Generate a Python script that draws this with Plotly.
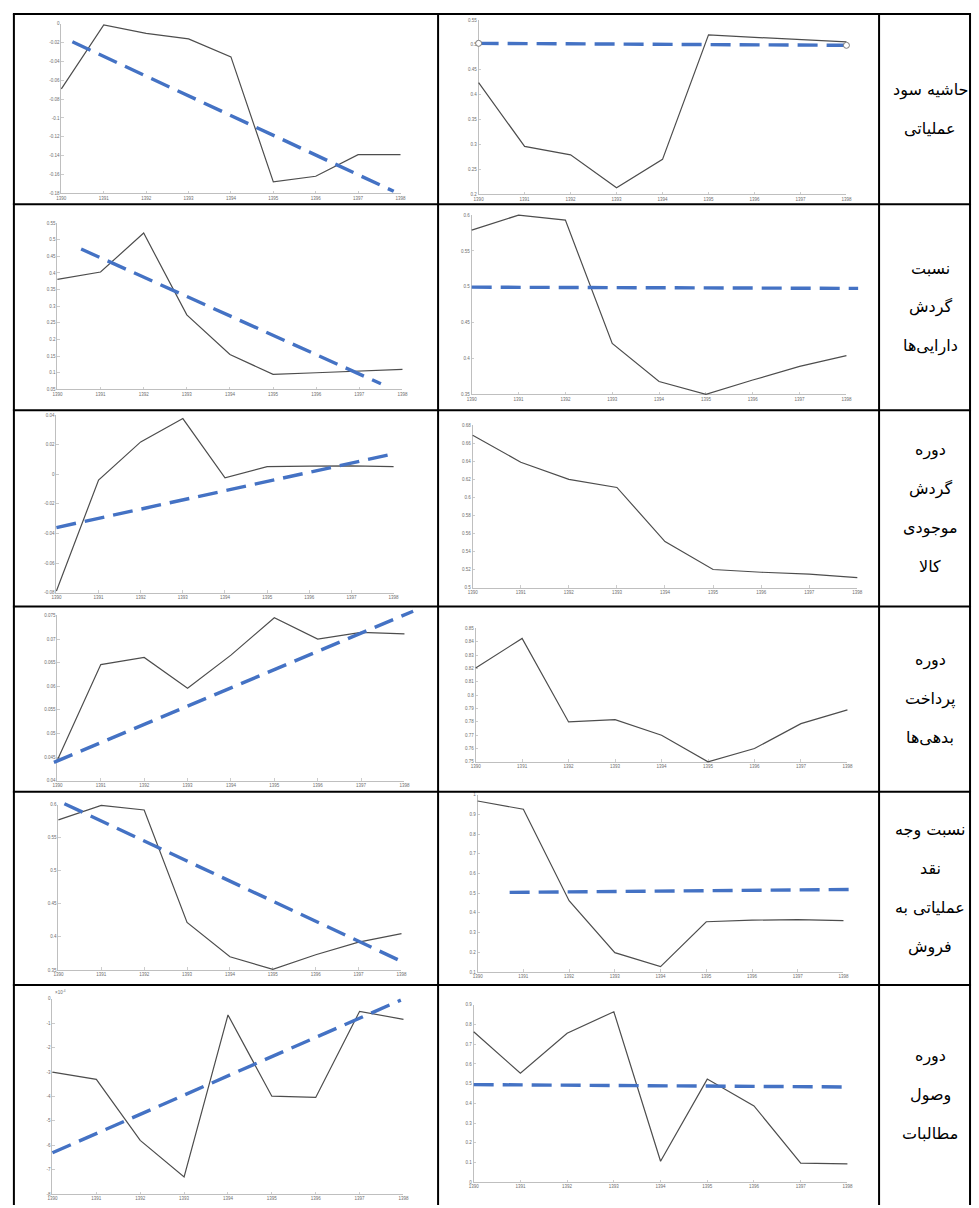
import plotly.graph_objects as go

W, H = 979, 1208

# ---------------- data ----------------
years = [1390, 1391, 1392, 1393, 1394, 1395, 1396, 1397, 1398]
year_labels = [str(y) for y in years]

row_labels = [
    ["حاشیه سود", "عملیاتی"],
    ["نسبت", "گردش", "دارایی\u200cها"],
    ["دوره", "گردش", "موجودی", "کالا"],
    ["دوره", "پرداخت", "بدهی\u200cها"],
    ["نسبت وجه", "نقد", "عملیاتی به", "فروش"],
    ["دوره", "وصول", "مطالبات"],
]

# row 1
r1_left_values = [-0.069, -0.001, -0.010, -0.016, -0.035, -0.168, -0.162, -0.139, -0.139]
r1_left_trend_x = [1390.26, 1397.84]
r1_left_trend_y = [-0.019, -0.178]
r1_left_yticks = [-0.18, -0.16, -0.14, -0.12, -0.1, -0.08, -0.06, -0.04, -0.02, 0]

r1_mid_values = [0.424, 0.296, 0.279, 0.213, 0.270, 0.520, 0.515, 0.510, 0.506]
r1_mid_trend_x = [1390, 1398]
r1_mid_trend_y = [0.503, 0.499]
r1_mid_yticks = [0.2, 0.25, 0.3, 0.35, 0.4, 0.45, 0.5, 0.55]

# row 2
r2_left_values = [0.381, 0.403, 0.520, 0.274, 0.155, 0.095, 0.100, 0.105, 0.110]
r2_left_trend_x = [1390.55, 1397.5]
r2_left_trend_y = [0.472, 0.067]
r2_left_yticks = [0.05, 0.1, 0.15, 0.2, 0.25, 0.3, 0.35, 0.4, 0.45, 0.5, 0.55]

r2_mid_values = [0.579, 0.600, 0.593, 0.421, 0.368, 0.350, 0.370, 0.389, 0.404]
r2_mid_trend_x = [1390, 1398.25]
r2_mid_trend_y = [0.4995, 0.4978]
r2_mid_yticks = [0.35, 0.4, 0.45, 0.5, 0.55, 0.6]

# row 3
r3_left_values = [-0.079, -0.0038, 0.022, 0.0378, -0.0023, 0.0052, 0.0056, 0.0058, 0.0052]
r3_left_trend_x = [1390, 1398.05]
r3_left_trend_y = [-0.036, 0.0142]
r3_left_yticks = [-0.08, -0.06, -0.04, -0.02, 0, 0.02, 0.04]

r3_mid_values = [0.669, 0.639, 0.620, 0.611, 0.551, 0.520, 0.517, 0.515, 0.511]
r3_mid_yticks = [0.5, 0.52, 0.54, 0.56, 0.58, 0.6, 0.62, 0.64, 0.66, 0.68]

# row 4
r4_left_values = [0.0444, 0.0646, 0.0661, 0.0596, 0.0666, 0.0745, 0.0700, 0.0714, 0.0711]
r4_left_trend_x = [1389.92, 1398.2]
r4_left_trend_y = [0.0439, 0.0759]
r4_left_yticks = [0.04, 0.045, 0.05, 0.055, 0.06, 0.065, 0.07, 0.075]

r4_mid_values = [0.8204, 0.8425, 0.7799, 0.7816, 0.7699, 0.7500, 0.7600, 0.7786, 0.7890]
r4_mid_yticks = [0.75, 0.76, 0.77, 0.78, 0.79, 0.8, 0.81, 0.82, 0.83, 0.84, 0.85]

# row 5
r5_left_values = [0.577, 0.599, 0.592, 0.422, 0.370, 0.351, 0.373, 0.392, 0.405]
r5_left_trend_x = [1390.14, 1398.1]
r5_left_trend_y = [0.6015, 0.360]
r5_left_yticks = [0.35, 0.4, 0.45, 0.5, 0.55, 0.6]

r5_mid_values = [0.968, 0.926, 0.462, 0.198, 0.127, 0.355, 0.363, 0.366, 0.361]
r5_mid_trend_x = [1390.7, 1398.15]
r5_mid_trend_y = [0.504, 0.519]
r5_mid_yticks = [0.1, 0.2, 0.3, 0.4, 0.5, 0.6, 0.7, 0.8, 0.9, 1]

# row 6
r6_left_values = [-3.0e-4, -3.3e-4, -5.8e-4, -7.3e-4, -0.66e-4, -3.99e-4, -4.04e-4, -0.51e-4, -0.84e-4]
r6_left_trend_x = [1390, 1397.94]
r6_left_trend_y = [-6.31e-4, -0.05e-4]
r6_left_yticks = [-8e-4, -7e-4, -6e-4, -5e-4, -4e-4, -3e-4, -2e-4, -1e-4, 0]
r6_left_exponent = "×10<sup>-4</sup>"

r6_mid_values = [0.763, 0.553, 0.756, 0.865, 0.106, 0.523, 0.387, 0.096, 0.093]
r6_mid_trend_x = [1390, 1398]
r6_mid_trend_y = [0.495, 0.483]
r6_mid_yticks = [0, 0.1, 0.2, 0.3, 0.4, 0.5, 0.6, 0.7, 0.8, 0.9]

# ---------------- layout (pixel boxes of plot areas) ----------------
charts = [
    dict(box=(57, 400, 22, 192), vals=r1_left_values, tx=r1_left_trend_x, ty=r1_left_trend_y, yt=r1_left_yticks),
    dict(box=(479, 851, 18, 193), vals=r1_mid_values, tx=r1_mid_trend_x, ty=r1_mid_trend_y, yt=r1_mid_yticks, ends=True),
    dict(box=(53, 402, 222, 389), vals=r2_left_values, tx=r2_left_trend_x, ty=r2_left_trend_y, yt=r2_left_yticks),
    dict(box=(472, 851, 214, 394), vals=r2_mid_values, tx=r2_mid_trend_x, ty=r2_mid_trend_y, yt=r2_mid_yticks),
    dict(box=(52, 393, 415, 593), vals=r3_left_values, tx=r3_left_trend_x, ty=r3_left_trend_y, yt=r3_left_yticks),
    dict(box=(473, 862, 425, 588), vals=r3_mid_values, tx=None, ty=None, yt=r3_mid_yticks),
    dict(box=(53, 404, 616, 782), vals=r4_left_values, tx=r4_left_trend_x, ty=r4_left_trend_y, yt=r4_left_yticks),
    dict(box=(476, 852, 629, 763), vals=r4_mid_values, tx=None, ty=None, yt=r4_mid_yticks),
    dict(box=(54, 401, 806, 972), vals=r5_left_values, tx=r5_left_trend_x, ty=r5_left_trend_y, yt=r5_left_yticks),
    dict(box=(478, 848, 796, 974), vals=r5_mid_values, tx=r5_mid_trend_x, ty=r5_mid_trend_y, yt=r5_mid_yticks),
    dict(box=(48, 403, 1001, 1197), vals=r6_left_values, tx=r6_left_trend_x, ty=r6_left_trend_y, yt=r6_left_yticks,
         tickscale=1e4, exponent=r6_left_exponent),
    dict(box=(474, 852, 1007, 1185), vals=r6_mid_values, tx=r6_mid_trend_x, ty=r6_mid_trend_y, yt=r6_mid_yticks),
]

GRAY = "#4d4d4d"
BLUE = "#4472c4"
AXC = "#bfbfbf"
TICKFONT = dict(family="Liberation Sans, Arial", size=4.5, color="#6e6e6e")
PAD = 16


def px(x):
    return x / W


def py(y):
    return 1 - y / H


def fmt(v, scale=1.0):
    s = "%g" % round(v * scale, 6)
    return "0" if s in ("-0", "0") else s


fig = go.Figure()
lay = {}
ai = 0
for c in charts:
    xl, xr, yt_px, yb_px = c["box"]
    ymin, ymax = min(c["yt"]), max(c["yt"])
    x0, x1 = years[0], years[-1]
    scale = c.get("tickscale", 1.0)

    # main (axes only)
    ai += 1
    n = ai
    xa = "xaxis" if n == 1 else f"xaxis{n}"
    ya = "yaxis" if n == 1 else f"yaxis{n}"
    xr_ref = "x" if n == 1 else f"x{n}"
    yr_ref = "y" if n == 1 else f"y{n}"
    lay[xa] = dict(domain=[px(xl), px(xr)], range=[x0, x1], anchor=yr_ref,
                   showline=True, linecolor=AXC, linewidth=1, mirror=False,
                   showgrid=False, zeroline=False, ticks="inside", ticklen=2.5,
                   tickcolor=AXC, tickwidth=0.8, tickvals=years, ticktext=year_labels,
                   tickfont=TICKFONT, fixedrange=True)
    lay[ya] = dict(domain=[py(yb_px), py(yt_px)], range=[ymin, ymax], anchor=xr_ref,
                   showline=True, linecolor=AXC, linewidth=1,
                   showgrid=False, zeroline=False, ticks="inside", ticklen=2.5,
                   tickcolor=AXC, tickwidth=0.8, tickvals=c["yt"],
                   ticktext=[fmt(v, scale) for v in c["yt"]],
                   tickfont=TICKFONT, fixedrange=True)
    fig.add_trace(go.Scatter(x=[x0], y=[ymin], xaxis=xr_ref, yaxis=yr_ref, mode="markers",
                             marker=dict(opacity=0), hoverinfo="skip", showlegend=False))

    # padded overlay for lines (avoid clipping)
    ai += 1
    m = ai
    sx = (x1 - x0) / (xr - xl)
    sy = (ymax - ymin) / (yb_px - yt_px)
    dxl = min(PAD, xl - 1)
    dxr = min(PAD, W - xr - 1)
    dyt = min(PAD, yt_px - 1)
    dyb = min(PAD, H - yb_px - 1)
    lay[f"xaxis{m}"] = dict(domain=[px(xl - dxl), px(xr + dxr)],
                            range=[x0 - dxl * sx, x1 + dxr * sx], anchor=f"y{m}",
                            visible=False, fixedrange=True)
    lay[f"yaxis{m}"] = dict(domain=[py(yb_px + dyb), py(yt_px - dyt)],
                            range=[ymin - dyb * sy, ymax + dyt * sy], anchor=f"x{m}",
                            visible=False, fixedrange=True)
    fig.add_trace(go.Scatter(x=years, y=c["vals"], xaxis=f"x{m}", yaxis=f"y{m}",
                             mode="lines", line=dict(color=GRAY, width=1.2),
                             hoverinfo="skip", showlegend=False))
    if c["tx"] is not None:
        fig.add_trace(go.Scatter(x=c["tx"], y=c["ty"], xaxis=f"x{m}", yaxis=f"y{m}",
                                 mode="lines", line=dict(color=BLUE, width=3.4, dash="20px,9px"),
                                 hoverinfo="skip", showlegend=False))
        if c.get("ends"):
            fig.add_trace(go.Scatter(x=c["tx"], y=c["ty"], xaxis=f"x{m}", yaxis=f"y{m}",
                                     mode="markers",
                                     marker=dict(symbol="circle", size=6, color="white",
                                                 line=dict(color="#7a7a7a", width=1)),
                                     hoverinfo="skip", showlegend=False))

annotations = []
for c in charts:
    if c.get("exponent"):
        xl, xr, yt_px, yb_px = c["box"]
        annotations.append(dict(x=px(xl + 1), y=py(yt_px - 2), xref="paper", yref="paper",
                                text=c["exponent"], showarrow=False, xanchor="left",
                                yanchor="bottom", font=dict(family="Liberation Sans", size=4.5,
                                                            color="#6e6e6e")))

# table grid
row_lines = [12, 203, 410, 607, 793, 987]
col_lines = [9, 438, 884, 976]
TOP, BOT = 12, 1208
shapes = []
for y in row_lines:
    shapes.append(dict(type="line", xref="paper", yref="paper", x0=px(col_lines[0] - 1),
                       x1=px(col_lines[-1] + 1), y0=py(y), y1=py(y),
                       line=dict(color="black", width=2)))
for x in col_lines:
    shapes.append(dict(type="line", xref="paper", yref="paper", x0=px(x), x1=px(x),
                       y0=py(TOP), y1=py(BOT), line=dict(color="black", width=2)))

# row labels (right column)
LINE_GAP = 39
label_x = 936
bounds = row_lines + [1208]
for r, lines in enumerate(row_labels):
    center = (bounds[r] + bounds[r + 1]) / 2
    k = len(lines)
    for j, t in enumerate(lines):
        yc = center + (j - (k - 1) / 2) * LINE_GAP
        annotations.append(dict(x=px(label_x), y=py(yc), xref="paper", yref="paper",
                                text=t, showarrow=False, xanchor="center", yanchor="middle",
                                font=dict(family="DejaVu Sans", size=16, color="black")))

fig.update_layout(width=W, height=H, autosize=False,
                  margin=dict(l=0, r=0, t=0, b=0, pad=0),
                  paper_bgcolor="white", plot_bgcolor="rgba(0,0,0,0)",
                  showlegend=False, shapes=shapes, annotations=annotations, **lay)

fig.write_html("out.html",
               config={"displayModeBar": False, "staticPlot": True},
               post_script="document.body.style.margin='0px';document.body.style.padding='0px';"
                           "document.body.style.overflow='hidden';"
                           "document.documentElement.style.overflow='hidden';")
